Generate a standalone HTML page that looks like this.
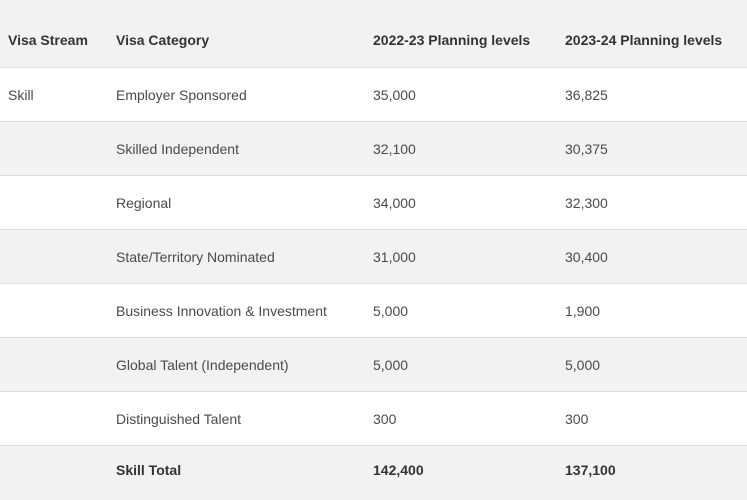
<!DOCTYPE html>
<html><head><meta charset="utf-8"><style>
body{margin:0;width:747px;height:495px;overflow:hidden;background:#fff;font-family:"Liberation Sans",sans-serif;}
.row{position:absolute;left:0;width:747px;border-bottom:1px solid #dedede;box-sizing:border-box;}
.g{background:#f2f2f2}
.c{position:absolute;top:50%;transform:translateY(-50%);font-size:14px;color:#4a4a4a;white-space:nowrap;}
.h .c,.t .c{font-weight:bold;color:#333;}
.c1{left:8px}.c2{left:116px}.c3{left:373px}.c4{left:565px}
</style></head><body>
<div>
<div class="row g h" style="top:0;height:68px">
<span class="c c1" style="top:40px">Visa Stream</span>
<span class="c c2" style="top:40px">Visa Category</span>
<span class="c c3" style="top:40px">2022-23 Planning levels</span>
<span class="c c4" style="top:40px">2023-24 Planning levels</span>
</div>
<div class="row" style="top:68px;height:54px">
<span class="c c1">Skill</span>
<span class="c c2">Employer Sponsored</span>
<span class="c c3">35,000</span>
<span class="c c4">36,825</span></div>
<div class="row g" style="top:122px;height:54px">
<span class="c c2">Skilled Independent</span>
<span class="c c3">32,100</span>
<span class="c c4">30,375</span></div>
<div class="row" style="top:176px;height:54px">
<span class="c c2">Regional</span>
<span class="c c3">34,000</span>
<span class="c c4">32,300</span></div>
<div class="row g" style="top:230px;height:54px">
<span class="c c2">State/Territory Nominated</span>
<span class="c c3">31,000</span>
<span class="c c4">30,400</span></div>
<div class="row" style="top:284px;height:54px">
<span class="c c2">Business Innovation &amp; Investment</span>
<span class="c c3">5,000</span>
<span class="c c4">1,900</span></div>
<div class="row g" style="top:338px;height:54px">
<span class="c c2">Global Talent (Independent)</span>
<span class="c c3">5,000</span>
<span class="c c4">5,000</span></div>
<div class="row" style="top:392px;height:54px">
<span class="c c2">Distinguished Talent</span>
<span class="c c3">300</span>
<span class="c c4">300</span></div>
<div class="row g t" style="top:446px;height:54px;border:none">
<span class="c c2" style="top:24px">Skill Total</span>
<span class="c c3" style="top:24px">142,400</span>
<span class="c c4" style="top:24px">137,100</span></div>
</div>
</body></html>
